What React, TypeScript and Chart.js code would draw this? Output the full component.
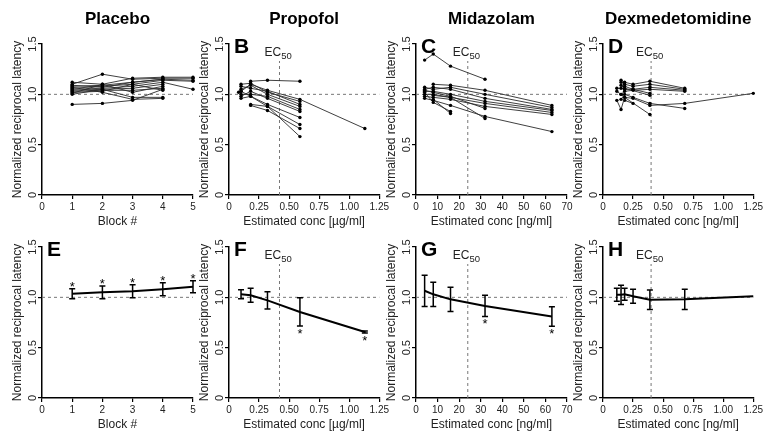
import React, { useEffect, useRef } from 'react';
import { Chart, registerables } from 'chart.js';

Chart.register(...registerables);

const FONT = '"Liberation Sans", Arial, Helvetica, sans-serif';
Chart.defaults.font.family = FONT;

// ---------------- data ----------------
type Star = '' | 'up' | 'down';

// Placebo (panel A / E)
const placeboBlocks = [1, 2, 3, 4, 5];
const placeboSubjects: (number | null)[][] = [
  [1.12, 1.10, 1.16, 1.17, 1.17],
  [1.10, 1.20, 1.15, 1.16, 1.16],
  [1.08, 1.09, 1.12, 1.15, 1.14],
  [1.06, 1.08, 1.10, 1.14, 1.13],
  [1.05, 1.06, 1.08, 1.12, 1.05],
  [1.04, 1.05, 1.06, 1.10, null],
  [1.03, 1.04, 1.04, 1.06, null],
  [1.02, 1.03, 1.10, 1.04, null],
  [1.00, 1.05, 0.97, 0.97, null],
  [1.07, 1.02, 0.95, 0.96, null],
  [0.90, 0.91, 0.94, 1.05, null],
  [1.01, 1.10, 1.02, 1.08, null],
  [1.09, 1.07, 1.12, 1.15, null],
];
const placeboMean = [1.035, 1.05, 1.06, 1.08, 1.105];
const placeboSD = [0.05, 0.063, 0.065, 0.065, 0.06];
const placeboStars: Star[] = ['up', 'up', 'up', 'up', 'up'];

// Propofol (panel B / F)
const propofolConc = [0.08, 0.10, 0.18, 0.32, 0.59, 1.13];
const propofolSubjects: (number | null)[][] = [
  [null, null, 1.13, 1.14, 1.13, null],
  [1.02, 1.03, 1.10, 1.04, 0.95, 0.66],
  [null, 1.10, 1.11, 1.02, 0.93, null],
  [null, 1.08, 1.06, 1.03, 0.90, null],
  [null, 1.05, 1.09, 1.00, 0.88, null],
  [null, 1.00, 1.00, 0.98, 0.85, null],
  [null, 0.98, 1.03, 0.96, 0.83, null],
  [null, 0.96, 0.98, 0.90, 0.77, null],
  [null, null, 0.90, 0.88, 0.70, null],
  [null, null, 0.89, 0.84, 0.66, null],
  [null, 1.03, 0.98, 0.88, 0.58, null],
];
const propofolMeanConc = [0.10, 0.18, 0.32, 0.59, 1.13];
const propofolMean = [1.03, 1.02, 0.97, 0.855, 0.655];
const propofolSD = [0.045, 0.07, 0.085, 0.14, 0.01];
const propofolStars: Star[] = ['', '', '', 'down', 'down'];
const propofolEC50 = 0.42;

// Midazolam (panel C / G)
const midazolamConc = [4, 8, 16, 32, 63];
const midazolamSubjects: (number | null)[][] = [
  [1.34, 1.40, 1.28, 1.15, null],
  [null, 1.10, 1.09, 1.04, 0.89],
  [1.07, 1.05, 1.07, 1.00, 0.87],
  [1.05, 1.07, 1.05, 0.96, 0.85],
  [1.03, 1.03, 1.00, 0.93, 0.84],
  [1.00, 1.00, 0.97, 0.91, 0.82],
  [0.98, 0.97, 0.95, 0.88, 0.80],
  [0.96, 0.94, 0.89, 0.78, 0.63],
  [1.02, 0.92, 0.83, null, null],
  [null, 0.95, 0.81, null, null],
  [1.04, 1.02, 0.98, 0.86, null],
  [null, 0.99, 0.97, 0.76, null],
];
const midazolamMean = [1.065, 1.03, 0.98, 0.915, 0.81];
const midazolamSD = [0.155, 0.12, 0.12, 0.105, 0.097];
const midazolamStars: Star[] = ['', '', '', 'down', 'down'];
const midazolamEC50 = 24;

// Dexmedetomidine (panel D / H)
const dexConc = [0.115, 0.15, 0.18, 0.25, 0.39, 0.68, 1.25];
const dexSubjects: (number | null)[][] = [
  [null, 1.14, 1.12, 1.10, 1.13, 1.06, null],
  [null, 1.12, 1.10, 1.08, 1.10, 1.05, null],
  [1.06, 1.06, 1.05, 1.05, 1.07, 1.04, null],
  [1.03, 1.00, 1.03, 1.04, 1.05, 1.03, null],
  [null, 0.95, 1.00, 0.97, 0.91, 0.86, null],
  [0.94, 0.85, 0.97, 0.96, 0.89, 0.91, 1.01],
  [null, null, 0.94, 0.91, null, null, null],
  [null, 1.00, 0.97, null, 0.80, null, null],
  [null, null, 1.08, 1.05, 1.01, null, null],
  [null, 1.09, 1.06, null, 0.99, null, null],
];
const dexMean = [1.025, 1.025, 1.03, 1.01, 0.977, 0.98, 1.01];
const dexSD = [0.065, 0.095, 0.06, 0.07, 0.097, 0.10, 0];
const dexStars: Star[] = ['', '', '', '', '', '', ''];
const dexEC50 = 0.40;

const panelTitles = ['Placebo', 'Propofol', 'Midazolam', 'Dexmedetomidine'];
const panelLetters = ['', 'B', 'C', 'D', 'E', 'F', 'G', 'H'];
const xTitles = ['Block #', 'Estimated conc [µg/ml]', 'Estimated conc [ng/ml]', 'Estimated conc [ng/ml]'];
const yTitle = 'Normalized reciprocal latency';
const yTicks = [0, 0.5, 1.0, 1.5];

// ---------------- layout (not data) ----------------
const PLOT_LEFT = [42, 229, 416, 603];
const PLOT = 151;
const Y_AXIS_W = 42;
const PAD_RIGHT = 11;
const X_AXIS_H = 38;
const ROW_TOP = [0, 233];
const ROW_PAD_TOP = [44, 14];

interface PanelSpec {
  col: number;
  row: number;
  title?: string;
  letter?: string;
  xMin: number;
  xMax: number;
  xStep: number;
  xDecimals: number;
  xTitle: string;
  ec50?: number;
  lines?: { x: number[]; rows: (number | null)[][] };
  mean?: { x: number[]; m: number[]; sd: number[]; stars: Star[] };
}

const panels: PanelSpec[] = [
  { col: 0, row: 0, title: panelTitles[0], letter: panelLetters[0], xMin: 0, xMax: 5, xStep: 1, xDecimals: 0, xTitle: xTitles[0],
    lines: { x: placeboBlocks, rows: placeboSubjects } },
  { col: 1, row: 0, title: panelTitles[1], letter: panelLetters[1], xMin: 0, xMax: 1.25, xStep: 0.25, xDecimals: 2, xTitle: xTitles[1],
    ec50: propofolEC50, lines: { x: propofolConc, rows: propofolSubjects } },
  { col: 2, row: 0, title: panelTitles[2], letter: panelLetters[2], xMin: 0, xMax: 70, xStep: 10, xDecimals: 0, xTitle: xTitles[2],
    ec50: midazolamEC50, lines: { x: midazolamConc, rows: midazolamSubjects } },
  { col: 3, row: 0, title: panelTitles[3], letter: panelLetters[3], xMin: 0, xMax: 1.25, xStep: 0.25, xDecimals: 2, xTitle: xTitles[3],
    ec50: dexEC50, lines: { x: dexConc, rows: dexSubjects } },
  { col: 0, row: 1, letter: panelLetters[4], xMin: 0, xMax: 5, xStep: 1, xDecimals: 0, xTitle: xTitles[0],
    mean: { x: placeboBlocks, m: placeboMean, sd: placeboSD, stars: placeboStars } },
  { col: 1, row: 1, letter: panelLetters[5], xMin: 0, xMax: 1.25, xStep: 0.25, xDecimals: 2, xTitle: xTitles[1],
    ec50: propofolEC50, mean: { x: propofolMeanConc, m: propofolMean, sd: propofolSD, stars: propofolStars } },
  { col: 2, row: 1, letter: panelLetters[6], xMin: 0, xMax: 70, xStep: 10, xDecimals: 0, xTitle: xTitles[2],
    ec50: midazolamEC50, mean: { x: midazolamConc, m: midazolamMean, sd: midazolamSD, stars: midazolamStars } },
  { col: 3, row: 1, letter: panelLetters[7], xMin: 0, xMax: 1.25, xStep: 0.25, xDecimals: 2, xTitle: xTitles[3],
    ec50: dexEC50, mean: { x: dexConc, m: dexMean, sd: dexSD, stars: dexStars } },
];

function decor(spec: PanelSpec) {
  return {
    id: 'decor',
    afterDatasetsDraw(chart: any) {
      const { ctx, chartArea: a, scales } = chart;
      const xs = scales.x;
      const ys = scales.y;
      ctx.save();
      ctx.fillStyle = '#000';
      ctx.textBaseline = 'alphabetic';
      if (spec.title) {
        ctx.font = `bold 17px ${FONT}`;
        ctx.textAlign = 'center';
        ctx.fillText(spec.title, (a.left + a.right) / 2, a.top - 20);
      }
      if (spec.letter) {
        ctx.font = `bold 21px ${FONT}`;
        ctx.textAlign = 'left';
        ctx.fillText(spec.letter, a.left + 5, a.top + 9);
      }
      if (spec.ec50 != null) {
        const sx = xs.getPixelForValue(spec.ec50) - 15;
        ctx.fillStyle = '#222';
        ctx.font = `12px ${FONT}`;
        ctx.textAlign = 'left';
        ctx.fillText('EC', sx, a.top + 12);
        const w = ctx.measureText('EC').width;
        ctx.font = `9.5px ${FONT}`;
        ctx.fillText('50', sx + w, a.top + 15);
      }
      if (spec.mean) {
        const mn = spec.mean;
        ctx.strokeStyle = '#000';
        ctx.fillStyle = '#000';
        ctx.lineWidth = 1.5;
        ctx.font = `13px ${FONT}`;
        ctx.textAlign = 'center';
        mn.x.forEach((xv, i) => {
          const sd = mn.sd[i];
          const px = xs.getPixelForValue(xv);
          const hi = ys.getPixelForValue(mn.m[i] + sd);
          const lo = ys.getPixelForValue(mn.m[i] - sd);
          if (sd > 0) {
            ctx.beginPath();
            ctx.moveTo(px, hi); ctx.lineTo(px, lo);
            ctx.moveTo(px - 3, hi); ctx.lineTo(px + 3, hi);
            ctx.moveTo(px - 3, lo); ctx.lineTo(px + 3, lo);
            ctx.stroke();
          }
          if (mn.stars[i] === 'up') ctx.fillText('*', px, hi + 2.5);
          if (mn.stars[i] === 'down') ctx.fillText('*', px, lo + 12);
        });
      }
      ctx.restore();
    },
  };
}

function Panel({ spec }: { spec: PanelSpec }) {
  const ref = useRef<HTMLCanvasElement>(null);
  const padTop = ROW_PAD_TOP[spec.row];
  const W = Y_AXIS_W + PLOT + PAD_RIGHT;
  const H = padTop + PLOT + X_AXIS_H;
  const left = PLOT_LEFT[spec.col] - Y_AXIS_W;
  const top = ROW_TOP[spec.row];

  useEffect(() => {
    if (!ref.current) return;
    const datasets: any[] = [];
    datasets.push({
      data: [{ x: spec.xMin, y: 1 }, { x: spec.xMax, y: 1 }],
      borderColor: '#777', borderWidth: 1, borderDash: [3, 3], pointRadius: 0, order: 10, clip: false,
    });
    if (spec.ec50 != null) {
      datasets.push({
        data: [{ x: spec.ec50, y: 0 }, { x: spec.ec50, y: 1.33 }],
        borderColor: '#777', borderWidth: 1, borderDash: [3, 3], pointRadius: 0, order: 10, clip: false,
      });
    }
    if (spec.lines) {
      const L = spec.lines;
      L.rows.forEach((row) => {
        const pts: { x: number; y: number }[] = [];
        row.forEach((v, i) => { if (v != null) pts.push({ x: L.x[i], y: v }); });
        datasets.push({
          data: pts, borderColor: '#2a2a2a', borderWidth: 0.9,
          pointRadius: 1.7, pointStyle: 'circle', pointBackgroundColor: '#000', pointBorderWidth: 0,
          order: 1, clip: false,
        });
      });
    }
    if (spec.mean) {
      const mn = spec.mean;
      datasets.push({
        data: mn.x.map((x, i) => ({ x, y: mn.m[i] })),
        borderColor: '#000', borderWidth: 2, pointRadius: 0, order: 0, clip: false,
      });
    }

    const dec = spec.xDecimals;
    const chart = new Chart(ref.current, {
      type: 'line',
      data: { datasets },
      options: {
        animation: false,
        responsive: false,
        maintainAspectRatio: false,
        events: [],
        layout: { padding: { top: padTop, right: PAD_RIGHT, bottom: 0, left: 0 }, autoPadding: false },
        plugins: { legend: { display: false }, tooltip: { enabled: false }, title: { display: false } },
        elements: { line: { tension: 0 } },
        scales: {
          x: {
            type: 'linear',
            min: spec.xMin,
            max: spec.xMax,
            afterFit: (s: any) => { s.height = X_AXIS_H; },
            ticks: {
              stepSize: spec.xStep,
              autoSkip: false,
              minRotation: 0,
              maxRotation: 0,
              padding: 2,
              color: '#222',
              font: { size: 10, family: FONT },
              callback: (v: any) => (Number(v) === 0 ? '0' : Number(v).toFixed(dec)),
            },
            grid: { drawOnChartArea: false, drawTicks: true, tickLength: 4, color: '#000', lineWidth: 1.2 },
            border: { display: true, color: '#000', width: 1.5 },
            title: { display: true, text: spec.xTitle, color: '#222', font: { size: 12, family: FONT }, padding: { top: 0, bottom: 4 } },
          },
          y: {
            type: 'linear',
            min: yTicks[0],
            max: yTicks[yTicks.length - 1],
            afterFit: (s: any) => { s.width = Y_AXIS_W; },
            afterBuildTicks: (s: any) => { s.ticks = yTicks.map((v) => ({ value: v })); },
            ticks: {
              minRotation: 90,
              maxRotation: 90,
              crossAlign: 'center',
              padding: -3,
              color: '#222',
              font: { size: 11, family: FONT },
              callback: (v: any) => (Number(v) === 0 ? '0' : Number(v).toFixed(1)),
            },
            grid: { drawOnChartArea: false, drawTicks: true, tickLength: 4, color: '#000', lineWidth: 1.2 },
            border: { display: true, color: '#000', width: 1.5 },
            title: { display: true, text: yTitle, color: '#222', font: { size: 12, family: FONT }, padding: { top: 10, bottom: 0 } },
          },
        },
      } as any,
      plugins: [decor(spec)],
    });
    return () => chart.destroy();
  }, []);

  return (
    <canvas
      ref={ref}
      width={W}
      height={H}
      style={{ position: 'absolute', left, top, width: W, height: H }}
    />
  );
}

export default function App() {
  return (
    <div
      style={{
        position: 'fixed', left: 0, top: 0, width: 765, height: 435,
        background: '#fff', overflow: 'hidden',
      }}
    >
      {panels.map((p, i) => (
        <Panel key={i} spec={p} />
      ))}
    </div>
  );
}
